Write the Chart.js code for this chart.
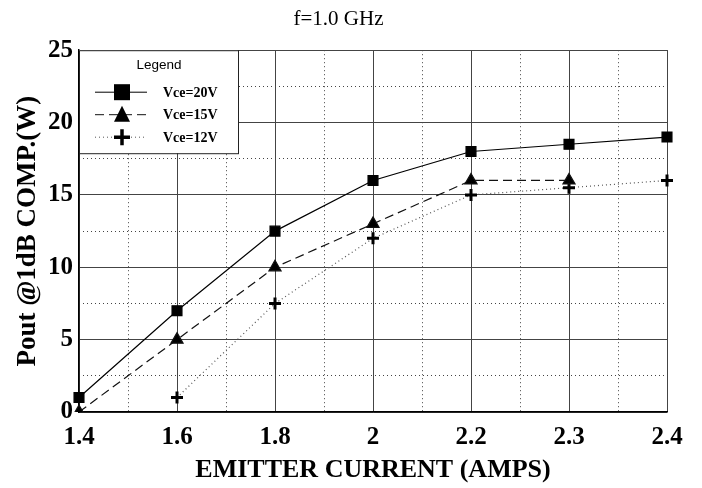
<!DOCTYPE html>
<html>
<head>
<meta charset="utf-8">
<script src="https://cdn.jsdelivr.net/npm/chart.js@4.4.0/dist/chart.umd.min.js"></script>
<style>
  body { margin: 0; background: #fff; }
  #wrap { width: 702px; height: 488px; }
</style>
</head>
<body>
<div id="wrap"><canvas id="powerChart" width="702" height="488"></canvas></div>
<script>
const currents = ["1.4", "1.6", "1.8", "2", "2.2", "2.3", "2.4"];
const vce20 = [1, 7, 12.5, 16, 18, 18.5, 19];
const vce15 = [0, 5, 10, 13, 16, 16, null];
const vce12 = [null, 1, 7.5, 12, 15, 15.5, 16];
const seriesNames = ["Vce=20V", "Vce=15V", "Vce=12V"];

const serif = "'Liberation Serif', 'Times New Roman', serif";

// legend box drawn inside the plot, top left
const boxLegend = {
    id: 'boxLegend',
    afterDatasetsDraw(chart) {
        const ctx = chart.ctx;
        const area = chart.chartArea;
        const x0 = area.left, y0 = area.top, w = 159, h = 103;
        ctx.save();
        ctx.fillStyle = '#fff';
        ctx.fillRect(x0, y0, w, h);
        ctx.strokeStyle = '#222';
        ctx.lineWidth = 1;
        ctx.setLineDash([]);
        ctx.strokeRect(x0 + 0.5, y0 + 0.5, w, h);
        ctx.fillStyle = '#000';
        ctx.font = "13.5px 'Liberation Sans', Arial, sans-serif";
        ctx.textAlign = 'center';
        ctx.textBaseline = 'middle';
        ctx.fillText('Legend', x0 + 80, y0 + 15);
        chart.data.datasets.forEach((ds, i) => {
            const y = y0 + 42 + i * 22.5;
            const cx = x0 + 43;
            ctx.strokeStyle = ds.borderColor;
            ctx.lineWidth = 1;
            ctx.setLineDash(ds.borderDash || []);
            ctx.beginPath();
            ctx.moveTo(x0 + 16, y);
            ctx.lineTo(x0 + 68, y);
            ctx.stroke();
            ctx.setLineDash([]);
            ctx.fillStyle = '#000';
            ctx.strokeStyle = '#000';
            if (ds.pointStyle === 'rect') {
                ctx.fillRect(cx - 8, y - 8, 16, 16);
            } else if (ds.pointStyle === 'triangle') {
                ctx.beginPath();
                ctx.moveTo(cx, y - 9);
                ctx.lineTo(cx + 8, y + 7);
                ctx.lineTo(cx - 8, y + 7);
                ctx.closePath();
                ctx.fill();
            } else {
                ctx.lineWidth = 3.5;
                ctx.beginPath();
                ctx.moveTo(cx, y - 8);
                ctx.lineTo(cx, y + 8);
                ctx.moveTo(cx - 8, y);
                ctx.lineTo(cx + 8, y);
                ctx.stroke();
            }
            ctx.fillStyle = '#000';
            ctx.font = "bold 14px " + serif;
            ctx.textAlign = 'left';
            ctx.fillText(ds.label, x0 + 84, y + 1);
        });
        ctx.restore();
    }
};

const config = {
    type: 'line',
    data: {
        labels: currents,
        datasets: [
            {
                label: seriesNames[0],
                data: vce20,
                xAxisID: 'x',
                yAxisID: 'y',
                borderColor: '#000',
                backgroundColor: '#000',
                borderWidth: 1.2,
                pointStyle: 'rect',
                pointRadius: 7,
                tension: 0
            },
            {
                label: seriesNames[1],
                data: vce15,
                xAxisID: 'x',
                yAxisID: 'y',
                borderColor: '#111',
                backgroundColor: '#000',
                borderWidth: 1.2,
                borderDash: [9, 5],
                pointStyle: 'triangle',
                pointRadius: 7,
                tension: 0
            },
            {
                label: seriesNames[2],
                data: vce12,
                xAxisID: 'x',
                yAxisID: 'y',
                borderColor: '#555',
                backgroundColor: '#000',
                borderWidth: 1.2,
                borderDash: [1, 3],
                pointStyle: 'cross',
                pointRadius: 6,
                pointBorderColor: '#000',
                pointBorderWidth: 3,
                tension: 0
            }
        ]
    },
    options: {
        responsive: false,
        animation: false,
        layout: { padding: { left: 10, right: 35, top: 0, bottom: 0 } },
        plugins: {
            legend: { display: false },
            tooltip: { enabled: false },
            title: {
                display: true,
                text: 'f=1.0 GHz',
                color: '#000',
                font: { family: serif, size: 21, weight: 'normal' },
                padding: { top: 7, bottom: 18 }
            }
        },
        scales: {
            x2: {
                type: 'linear',
                position: 'bottom',
                min: 0, max: 6,
                ticks: { display: false, stepSize: 0.5 },
                grid: { color: '#444', lineWidth: 1, drawTicks: false },
                border: { display: false, dash: [1, 3] },
                afterFit: s => { s.height = 0; }
            },
            y2: {
                type: 'linear',
                position: 'left',
                min: 0, max: 25,
                ticks: { display: false, stepSize: 2.5 },
                grid: { color: '#444', lineWidth: 1, drawTicks: false },
                border: { display: false, dash: [1, 3] },
                afterFit: s => { s.width = 0; }
            },
            x: {
                type: 'category',
                offset: false,
                grid: { color: '#444', lineWidth: 1, drawTicks: false },
                border: { color: '#000', width: 1.5 },
                ticks: {
                    color: '#000',
                    padding: 11,
                    maxRotation: 0,
                    font: { family: serif, size: 25, weight: 'bold' }
                },
                title: {
                    display: true,
                    text: 'EMITTER CURRENT (AMPS)',
                    color: '#000',
                    font: { family: serif, size: 26, weight: 'bold' },
                    padding: { top: 0, bottom: 2 }
                },
                afterFit: s => { s.height = 76; }
            },
            y: {
                min: 0, max: 25,
                grid: { color: '#444', lineWidth: 1, drawTicks: false },
                border: { color: '#000', width: 1.5 },
                ticks: {
                    stepSize: 5,
                    color: '#000',
                    padding: 6,
                    font: { family: serif, size: 25, weight: 'bold' }
                },
                title: {
                    display: true,
                    text: 'Pout @1dB COMP.(W)',
                    color: '#000',
                    font: { family: serif, size: 27, weight: 'bold' },
                    padding: { top: 2, bottom: 0 }
                },
                afterFit: s => { s.width = 69; }
            }
        }
    },
    plugins: [boxLegend]
};

const chart = new Chart(document.getElementById('powerChart'), config);
</script>
</body>
</html>
